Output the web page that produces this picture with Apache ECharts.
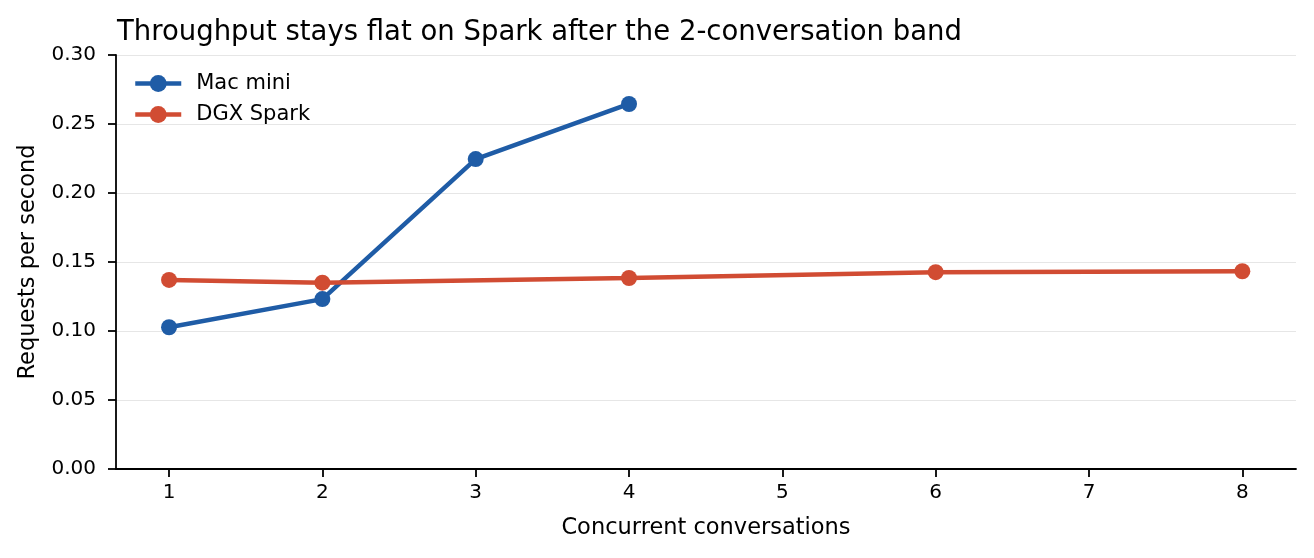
<!DOCTYPE html>
<html>
<head>
<meta charset="utf-8">
<script src="https://cdn.jsdelivr.net/npm/echarts@6/dist/echarts.min.js"></script>
<style>
  html, body { margin: 0; padding: 0; background: #fff; }
  #chart { width: 1314px; height: 558px; }
</style>
</head>
<body>
<div id="chart"></div>
<script>
// data
var macConcurrency = [1, 2, 3, 4];
var macThroughput = [0.1027, 0.1231, 0.2246, 0.2645];
var sparkConcurrency = [1, 2, 4, 6, 8];
var sparkThroughput = [0.1370, 0.1350, 0.1384, 0.1426, 0.1433];
var xTicks = [1, 2, 3, 4, 5, 6, 7, 8];

var FONT = 'DejaVu Sans';
var BLUE = '#1f5ca6';
var RED = '#d14c33';

function pairs(xs, ys) {
  return xs.map(function (x, i) { return [x, ys[i]]; });
}

var chart = echarts.init(document.getElementById('chart'));

chart.setOption({
  animation: false,
  textStyle: { fontFamily: FONT },
  title: {
    text: 'Throughput stays flat on Spark after the 2-conversation band',
    left: 112,
    top: 14,
    textStyle: { fontFamily: FONT, fontSize: 27.5, fontWeight: 'normal', color: '#000' }
  },
  legend: {
    orient: 'vertical',
    left: 133,
    top: 73,
    padding: 0,
    itemWidth: 46,
    itemHeight: 21,
    itemGap: 10,
    lineStyle: { width: 4.5 },
    textStyle: { fontFamily: FONT, fontSize: 21, color: '#000', padding: [0, 0, 0, 10] },
    data: ['Mac mini', 'DGX Spark']
  },
  grid: { left: 116, right: 18, top: 55, bottom: 89 },
  xAxis: {
    type: 'value',
    min: 0.654,
    max: 8.35,
    name: 'Concurrent conversations',
    nameLocation: 'middle',
    nameGap: 48,
    nameTextStyle: { fontFamily: FONT, fontSize: 22.5, color: '#000' },
    axisLine: { lineStyle: { color: '#000', width: 1.8 } },
    axisTick: { show: true, length: 8, lineStyle: { color: '#000', width: 1.8 }, customValues: xTicks },
    axisLabel: { fontFamily: FONT, fontSize: 20, color: '#000', margin: 14, customValues: xTicks },
    splitLine: { show: false }
  },
  yAxis: {
    type: 'value',
    min: 0,
    max: 0.3,
    interval: 0.05,
    name: 'Requests per second',
    nameLocation: 'middle',
    nameGap: 76,
    nameTextStyle: { fontFamily: FONT, fontSize: 22.5, color: '#000' },
    axisLine: { show: true, lineStyle: { color: '#000', width: 1.8 } },
    axisTick: { show: true, length: 8, lineStyle: { color: '#000', width: 1.8 } },
    axisLabel: {
      fontFamily: FONT, fontSize: 20, color: '#000', margin: 20,
      formatter: function (v) { return v.toFixed(2); }
    },
    splitLine: { show: true, lineStyle: { color: '#e6e6e6', width: 1 } }
  },
  series: [
    {
      name: 'Mac mini',
      type: 'line',
      data: pairs(macConcurrency, macThroughput),
      symbol: 'circle',
      symbolSize: 16,
      lineStyle: { color: BLUE, width: 4.5 },
      itemStyle: { color: BLUE },
      z: 3
    },
    {
      name: 'DGX Spark',
      type: 'line',
      data: pairs(sparkConcurrency, sparkThroughput),
      symbol: 'circle',
      symbolSize: 16,
      lineStyle: { color: RED, width: 4.5 },
      itemStyle: { color: RED },
      z: 4
    }
  ]
});
</script>
</body>
</html>
